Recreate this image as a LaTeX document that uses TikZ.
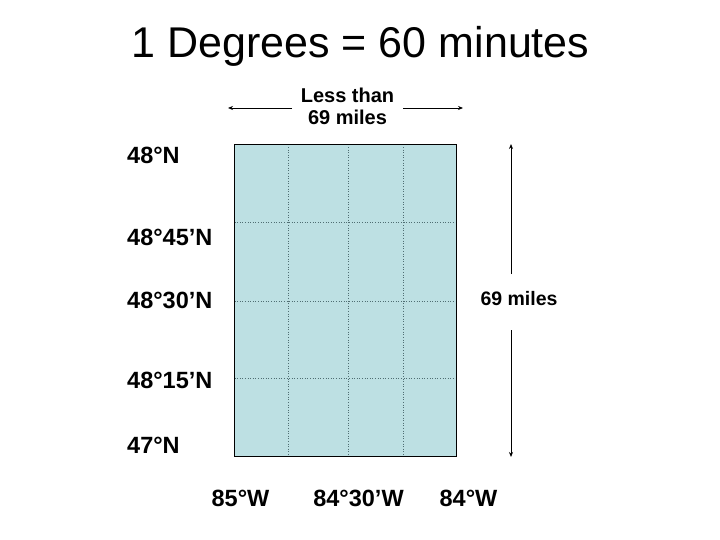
\documentclass[tikz,border=0pt]{standalone}
\usepackage{fontspec}
\setmainfont{Liberation Sans}
\usetikzlibrary{arrows.meta}
\definecolor{mapfill}{RGB}{189,224,227}
\definecolor{gridc}{RGB}{80,110,115}
\tikzset{
  lbl/.style={font=\bfseries\fontsize{23.5}{26}\selectfont, inner sep=0pt},
  arr/.style={-{Stealth[length=5pt,width=4pt]}, line width=0.8pt},
  gridl/.style={gridc, dotted, line width=0.6pt}
}
\begin{document}
\begin{tikzpicture}[x=1pt,y=-1pt]
\useasboundingbox (0,0) rectangle (720,540);
\node[font=\fontsize{43}{48}\selectfont, inner sep=0pt] (title) at (360.5,46) {1 Degrees = 60 minutes};
\draw[fill=mapfill, line width=0.7pt] (234,144) rectangle (456,456);
\foreach \x in {288,348,403} \draw[gridl] (\x,144.5) -- (\x,455.5);
\foreach \y in {222,301,378} \draw[gridl] (234.5,\y) -- (455.5,\y);
\draw[line width=0.7pt] (234,144) rectangle (456,456);
\node[inner sep=0pt, align=center, font=\bfseries\fontsize{20}{22}\selectfont] (less) at (347.5,106) {Less than\\69 miles};
\coordinate (la) at (228,108);
\coordinate (ra) at (463,108);
\coordinate (ls) at (292,108);
\coordinate (rs) at (403,108);
\draw[arr] (ls) -- (la);
\draw[arr] (rs) -- (ra);
\node[inner sep=0pt, font=\bfseries\fontsize{19.5}{22}\selectfont] (sixty) at (519,299) {69 miles};
\coordinate (ta) at (511,144);
\coordinate (ba) at (511,457);
\coordinate (ts) at (511,274);
\coordinate (bs) at (511,330);
\draw[arr] (ts) -- (ta);
\draw[arr] (bs) -- (ba);
\node[lbl, anchor=west] (n48) at (127,155) {48°N};
\node[lbl, anchor=west] (n4845) at (127,237) {48°45’N};
\node[lbl, anchor=west] (n4830) at (127,300) {48°30’N};
\node[lbl, anchor=west] (n4815) at (127,380) {48°15’N};
\node[lbl, anchor=west] (n47) at (127,445) {47°N};
\node[lbl] (w85) at (240.5,498) {85°W};
\node[lbl] (w8430) at (358.5,498) {84°30’W};
\node[lbl] (w84) at (468.5,498) {84°W};
\end{tikzpicture}
\end{document}
